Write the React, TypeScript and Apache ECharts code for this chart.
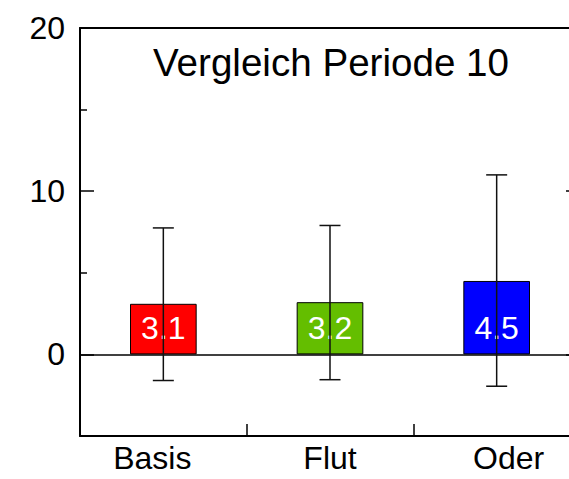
import React, { useEffect, useRef } from "react";
import * as echarts from "echarts";

const categories = ["Basis", "Flut", "Oder"];
const values = [3.1, 3.2, 4.5];
const errLow = [-1.6, -1.55, -1.95];
const errHigh = [7.75, 7.9, 11.0];
const barColors = ["#FF0000", "#64BE00", "#0000FF"];
const majorTicks = [0, 10, 20];
const minorTicks = [-5, 5, 15];
const titleText = "Vergleich Periode 10";

const FONT = "'Liberation Sans', Arial, sans-serif";

export default function App() {
  const ref = useRef<HTMLDivElement>(null);
  useEffect(() => {
    if (!ref.current) return;
    const chart = echarts.init(ref.current, null, { renderer: "svg" });
    const labelKeys = ["a", "b", "c"];
    chart.setOption({
      animation: false,
      backgroundColor: "#ffffff",
      textStyle: { fontFamily: FONT },
      grid: { left: 80, top: 28, width: 500, height: 408, containLabel: false },
      graphic: [
        {
          type: "text",
          x: 331,
          y: 62,
          style: {
            text: titleText,
            fontSize: 38.6,
            fontFamily: FONT,
            fill: "#000",
            textAlign: "center",
            textVerticalAlign: "middle",
          },
        },
      ],
      xAxis: [
        {
          type: "category",
          data: categories,
          position: "bottom",
          boundaryGap: true,
          axisLine: { show: true, onZero: false, lineStyle: { color: "#000", width: 2 } },
          axisTick: { show: true, inside: true, length: 12, lineStyle: { color: "#000", width: 1.5 } },
          axisLabel: {
            color: "#000",
            fontSize: 32,
            fontFamily: FONT,
            margin: 6,
            formatter: (v: string) => {
              const i = categories.indexOf(v);
              return `{${labelKeys[i]}|${v}}`;
            },
            rich: {
              a: { fontSize: 32, fontFamily: FONT, color: "#000", padding: [0, 22, 0, 0] },
              b: { fontSize: 32, fontFamily: FONT, color: "#000" },
              c: { fontSize: 32, fontFamily: FONT, color: "#000", padding: [0, 0, 0, 24] },
            },
          },
          splitLine: { show: false },
        },
        {
          type: "category",
          data: categories,
          position: "top",
          axisLine: { show: true, onZero: false, lineStyle: { color: "#000", width: 2 } },
          axisTick: { show: false },
          axisLabel: { show: false },
          splitLine: { show: false },
        },
      ],
      yAxis: [
        {
          type: "value",
          min: -5,
          max: 20,
          interval: 5,
          position: "left",
          axisLine: { show: true, onZero: false, lineStyle: { color: "#000", width: 2 } },
          axisTick: { show: true, inside: true, length: 14, customValues: majorTicks, lineStyle: { color: "#000", width: 1.5 } },
          axisLabel: { show: true, customValues: majorTicks, color: "#000", fontSize: 32, fontFamily: FONT, margin: 15 },
          splitLine: { show: false },
        },
        {
          type: "value",
          min: -5,
          max: 20,
          interval: 5,
          position: "left",
          axisLine: { show: false },
          axisTick: { show: true, inside: true, length: 7, customValues: minorTicks, lineStyle: { color: "#000", width: 1.5 } },
          axisLabel: { show: false },
          splitLine: { show: false },
        },
        {
          type: "value",
          min: -5,
          max: 20,
          interval: 5,
          position: "right",
          axisLine: { show: true, onZero: false, lineStyle: { color: "#000", width: 2 } },
          axisTick: { show: true, inside: true, length: 14, customValues: majorTicks, lineStyle: { color: "#000", width: 1.5 } },
          axisLabel: { show: false },
          splitLine: { show: false },
        },
      ],
      series: [
        {
          type: "bar",
          xAxisIndex: 0,
          yAxisIndex: 0,
          barWidth: "40%",
          data: values.map((v, i) => ({
            value: v,
            itemStyle: { color: barColors[i], borderColor: "#000", borderWidth: 1 },
          })),
          label: {
            show: true,
            position: "insideBottom",
            distance: 10,
            color: "#fff",
            fontSize: 32,
            fontFamily: FONT,
            formatter: (p: any) => String(p.value),
          },
          markLine: {
            silent: true,
            symbol: ["none", "none"],
            label: { show: false },
            lineStyle: { color: "#000", width: 1.5, type: "solid" },
            data: [{ yAxis: 0 }],
          },
          z: 2,
        },
        {
          type: "custom",
          xAxisIndex: 0,
          yAxisIndex: 0,
          z: 5,
          data: categories.map((_, i) => [i, errLow[i], errHigh[i]]),
          encode: { x: 0, y: [1, 2] },
          renderItem: (params: any, api: any) => {
            const x = api.value(0);
            const lo = api.coord([x, api.value(1)]);
            const hi = api.coord([x, api.value(2)]);
            const hw = 10.5;
            const style = { stroke: "#111", lineWidth: 1.5 };
            return {
              type: "group",
              children: [
                { type: "line", shape: { x1: lo[0], y1: lo[1], x2: hi[0], y2: hi[1] }, style },
                { type: "line", shape: { x1: hi[0] - hw, y1: hi[1], x2: hi[0] + hw, y2: hi[1] }, style },
                { type: "line", shape: { x1: lo[0] - hw, y1: lo[1], x2: lo[0] + hw, y2: lo[1] }, style },
              ],
            };
          },
        },
      ],
    });
    return () => chart.dispose();
  }, []);
  return (
    <div
      style={{
        position: "fixed",
        left: 0,
        top: 0,
        width: 569,
        height: 479,
        overflow: "hidden",
        background: "#fff",
      }}
    >
      <div ref={ref} style={{ width: 600, height: 479 }} />
    </div>
  );
}
